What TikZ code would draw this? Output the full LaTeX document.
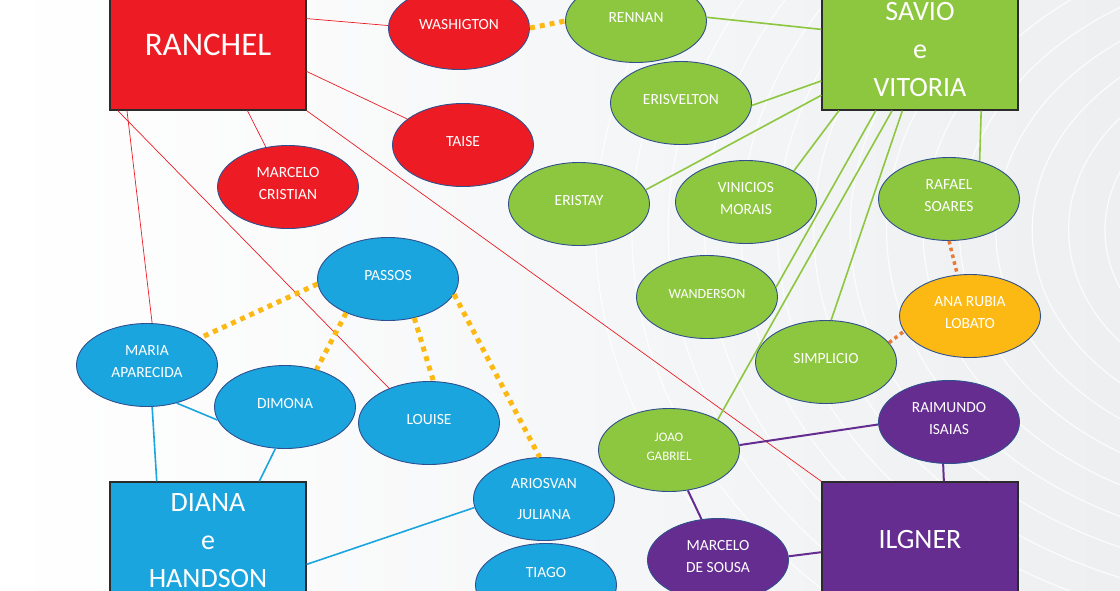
\documentclass[tikz,border=0pt]{standalone}
\usepackage{fontspec}
\setmainfont{Carlito}
\usetikzlibrary{shapes.geometric}
\usepackage{xcolor}

\definecolor{vermelho}{HTML}{ED1C24}
\definecolor{verde}{HTML}{8DC63F}
\definecolor{azul}{HTML}{1AA5DE}
\definecolor{roxo}{HTML}{662D91}
\definecolor{ouro}{HTML}{FDB913}
\definecolor{laranja}{HTML}{E97B35}
\definecolor{contorno}{HTML}{2F4F8F}
\definecolor{borda}{HTML}{2B2B2B}
\definecolor{fundo}{HTML}{EDEFF1}

\tikzset{
    caixa/.style={draw=borda, line width=1.2pt, minimum width=196pt, minimum height=130pt,
        inner sep=0pt, text=white, align=center, font=\fontsize{28}{38}\selectfont},
    bola/.style={ellipse, draw=contorno, line width=0.9pt, minimum width=141pt, minimum height=83pt,
        inner sep=0pt, text=white, align=center, text depth=7pt, font=\fontsize{15.5}{22}\selectfont},
    linverm/.style={draw=vermelho, line width=0.7pt},
    linverde/.style={draw=verde, line width=1.6pt},
    linazul/.style={draw=azul, line width=1.6pt},
    linroxo/.style={draw=roxo, line width=2pt},
    pontouro/.style={draw=ouro, line width=5pt, dash pattern=on 5pt off 5pt},
    pontlaranja/.style={draw=laranja, line width=3.5pt, dash pattern=on 3.5pt off 3.5pt}
}

\begin{document}
\begin{tikzpicture}[x=1pt, y=-1pt]
    % Fundo
    \useasboundingbox (0,0) rectangle (1120,590);
    \fill[left color=white, right color=fundo] (0,0) rectangle (1120,590);
    \begin{scope}
        \clip (0,0) rectangle (1120,590);
        \foreach \r in {150,178,...,560}
            \draw[white, line width=1.2pt, opacity=0.8] (1300,230) ellipse ({1.3*\r} and \r);
    \end{scope}

    % Casais
    \node[caixa, fill=vermelho, font=\fontsize{33}{38}\selectfont] (ranchel) at (208,45) {RANCHEL};
    \node[caixa, fill=verde, text height=103pt] (savio) at (920,45) {SAVIO\\e\\VITORIA};
    \node[caixa, fill=azul, text depth=13pt] (diana) at (208,547) {DIANA\\e\\HANDSON};
    \node[caixa, fill=roxo, text depth=16pt] (ilgner) at (920,547) {ILGNER};

    % Filhos
    \foreach \nome/\x/\y/\texto in {washigton/459/28/WASHIGTON, taise/463/145/TAISE,
            marcelocr/288/187/{MARCELO\\CRISTIAN}}
        \node[bola, fill=vermelho] (\nome) at (\x,\y) {\texto};
    \foreach \nome/\x/\y/\texto in {rennan/636/21/RENNAN, erisvelton/681/103/ERISVELTON,
            eristay/579/204/ERISTAY, vinicios/746/202/{VINICIOS\\MORAIS},
            rafael/949/199/{RAFAEL\\SOARES}, simplicio/826/362/SIMPLICIO}
        \node[bola, fill=verde] (\nome) at (\x,\y) {\texto};
    \node[bola, fill=verde, font=\fontsize{14}{20}\selectfont] (wanderson) at (707,297) {WANDERSON};
    \node[bola, fill=verde, font=\fontsize{13}{19}\selectfont] (joao) at (669,450) {JOAO\\GABRIEL};
    \foreach \nome/\x/\y/\texto in {passos/388/279/PASSOS, maria/147/365/{MARIA\\APARECIDA},
            dimona/285/407/DIMONA, louise/429/423/LOUISE}
        \node[bola, fill=azul] (\nome) at (\x,\y) {\texto};
    \node[bola, fill=azul, text depth=0pt] (ariosvan) at (544,499) {ARIOSVAN\\[9pt]JULIANA};
    \node[bola, fill=azul, text depth=26pt] (tiago) at (546,585) {TIAGO};
    \foreach \nome/\x/\y/\texto in {raimundo/949/422/{RAIMUNDO\\ISAIAS},
            marcelods/718/560/{MARCELO\\DE SOUSA}}
        \node[bola, fill=roxo] (\nome) at (\x,\y) {\texto};
    \node[bola, fill=ouro] (anarubia) at (970,316) {ANA RUBIA\\LOBATO};

    % Ligacoes
    \foreach \a/\b in {ranchel.15/washigton.178, ranchel.-15/taise.155, ranchel.-59/marcelocr.119,
            ranchel.south east/ilgner.north west, ranchel.-141/maria.83, ranchel.-144/louise.139}
        \draw[linverm] (\a) -- (\b);
    \foreach \a/\b in {rennan.3/savio.171, erisvelton.-2/savio.200, eristay.12/savio.207,
            vinicios.33/savio.219, wanderson.8/savio.236, joao.32/savio.247,
            simplicio.83/savio.255, rafael.51/savio.313}
        \draw[linverde] (\a) -- (\b);
    \foreach \a/\b in {maria.-83/diana.128, maria.-52/dimona.191, dimona.257/diana.52,
            diana.-10/ariosvan.187}
        \draw[linazul] (\a) -- (\b);
    \foreach \a/\b in {joao.4/raimundo.182, raimundo.262/ilgner.70, joao.-65/marcelods.112,
            marcelods.3/ilgner.183}
        \draw[linroxo] (\a) -- (\b);

    % Pontilhados
    \foreach \a/\b in {passos.184/maria.27, passos.219/dimona.50, passos.-56/louise.84,
            passos.-13/ariosvan.96, washigton.east/rennan.west}
        \draw[pontouro] (\a) -- (\b);
    \foreach \a/\b in {rafael.south/anarubia.107, simplicio.17/anarubia.193}
        \draw[pontlaranja] (\a) -- (\b);
\end{tikzpicture}
\end{document}
